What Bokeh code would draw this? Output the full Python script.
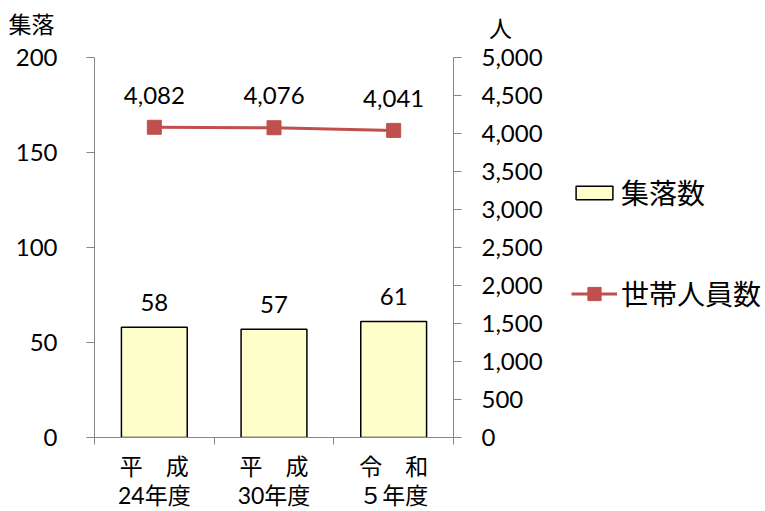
from bokeh.plotting import figure
from bokeh.layouts import row, column
from bokeh.models import (ColumnDataSource, Range1d, LinearAxis, FixedTicker,
                          SingleIntervalTicker, NumeralTickFormatter, Legend,
                          LegendItem, Label)
from bokeh.embed import file_html
from bokeh.resources import INLINE
from bokeh.core.properties import value

# --- data -------------------------------------------------------------
categories = ["平　成\n24年度", "平　成\n30年度", "令　和\n５年度"]
settlements = [58, 57, 61]          # 集落数 (left axis)
households = [4082, 4076, 4041]     # 世帯人員数 (right axis, 人)

settle_axis_max = 200
people_axis_max = 5000

# --- styling ----------------------------------------------------------
NUM_FONT = "Lato, 'Noto Sans CJK JP'"
JP_FONT = "'Noto Sans CJK JP'"
AXIS_GREY = "#868686"
BAR_FILL = "#FFFFCC"
LINE_RED = "#C0504D"
NAN = float("nan")

CAP_H = 42          # strip holding the two unit captions
CHART_H = 511 - CAP_H


def bare_figure(**kw):
    f = figure(x_range=Range1d(0, 1), y_range=Range1d(0, 1),
               x_axis_location=None, y_axis_location=None,
               output_backend="svg", toolbar_location=None, min_border=0, **kw)
    f.outline_line_color = None
    f.xgrid.visible = False
    f.ygrid.visible = False
    return f


pos = [i + 0.5 for i in range(len(categories))]
src = ColumnDataSource(dict(
    x=pos,
    settle=settlements,
    settle_txt=[str(v) for v in settlements],
    people=households,
    people_txt=[f"{v:,}" for v in households],
))

p = figure(width=545, height=CHART_H,
           x_range=Range1d(0, len(categories)),
           y_range=Range1d(0, settle_axis_max),
           output_backend="svg", toolbar_location=None,
           min_border_left=94, min_border_right=92,
           min_border_top=15, min_border_bottom=74)
p.extra_y_ranges = {"people": Range1d(0, people_axis_max)}
p.outline_line_color = None
p.xgrid.visible = False
p.ygrid.visible = False

# x axis: labels centred on each bar, tick marks on the category borders
xa = p.xaxis[0]
xa.ticker = FixedTicker(ticks=pos, minor_ticks=list(range(len(categories) + 1)))
xa.major_label_overrides = {x: c for x, c in zip(pos, categories)}
xa.major_tick_out = 0
xa.major_tick_in = 0
xa.minor_tick_out = 7
xa.minor_tick_in = 0
xa.minor_tick_line_color = AXIS_GREY
xa.axis_line_color = AXIS_GREY
xa.major_label_text_font = NUM_FONT
xa.major_label_text_font_size = "23px"
xa.major_label_text_color = "black"
xa.major_label_text_line_height = 1.05
xa.major_label_standoff = 7

# left axis: settlements
ya = p.yaxis[0]
ya.ticker = SingleIntervalTicker(interval=50)
ya.minor_tick_line_color = None
ya.major_tick_out = 8
ya.major_tick_in = 0
ya.major_tick_line_color = AXIS_GREY
ya.axis_line_color = AXIS_GREY
ya.major_label_text_font = NUM_FONT
ya.major_label_text_font_size = "24px"
ya.major_label_text_color = "black"
ya.major_label_standoff = 29

# right axis: persons
ra = LinearAxis(y_range_name="people",
                ticker=SingleIntervalTicker(interval=500),
                formatter=NumeralTickFormatter(format="0,0"))
ra.minor_tick_line_color = None
ra.major_tick_out = 8
ra.major_tick_in = 0
ra.major_tick_line_color = AXIS_GREY
ra.axis_line_color = AXIS_GREY
ra.major_label_text_font = NUM_FONT
ra.major_label_text_font_size = "24px"
ra.major_label_text_color = "black"
ra.major_label_standoff = 20
p.add_layout(ra, "right")

# bars and line
bars = p.vbar(x="x", top="settle", width=0.55, source=src,
              fill_color=BAR_FILL, line_color="black", line_width=1.5)
line = p.line(x="x", y="people", source=src, y_range_name="people",
              line_color=LINE_RED, line_width=3)
pts = p.scatter(x="x", y="people", source=src, y_range_name="people",
                marker="square", size=14,
                fill_color=LINE_RED, line_color=LINE_RED)

# value labels
p.text(x="x", y="settle", text="settle_txt", source=src,
       text_align="center", text_baseline="alphabetic", y_offset=-25,
       text_font=value(NUM_FONT), text_font_size="24px", text_color="black")
p.text(x="x", y="people", text="people_txt", source=src, y_range_name="people",
       text_align="center", text_baseline="alphabetic", y_offset=-32,
       text_font=value(NUM_FONT), text_font_size="24px", text_color="black")

# unit captions above the two value axes
cap = bare_figure(width=765, height=CAP_H)
cap.add_layout(Label(x=31, y=20, x_units="screen", y_units="screen",
                     text="集落", text_align="center", text_baseline="middle",
                     text_font=JP_FONT, text_font_size="23px", text_color="black"))
cap.add_layout(Label(x=500, y=16, x_units="screen", y_units="screen",
                     text="人", text_align="center", text_baseline="middle",
                     text_font=JP_FONT, text_font_size="23px", text_color="black"))

# legend panel to the right of the chart
lp = bare_figure(width=220, height=CHART_H)
key_bar = lp.vbar(x=[NAN], top=[NAN], width=1, fill_color=BAR_FILL,
                  line_color="black", line_width=1.5)
key_line = lp.line(x=[NAN, NAN], y=[NAN, NAN], line_color=LINE_RED, line_width=3)
key_pts = lp.scatter(x=[NAN], y=[NAN], marker="square",
                     fill_color=LINE_RED, line_color=LINE_RED)

legend_style = dict(orientation="vertical", glyph_width=46, label_standoff=4,
                    padding=0, margin=0, border_line_color=None,
                    background_fill_alpha=0, label_text_font=JP_FONT,
                    label_text_font_size="28px", label_text_color="black")
lp.add_layout(Legend(items=[LegendItem(label="集落数", renderers=[key_bar])],
                     location=(26, 225), glyph_height=17, **legend_style))
lp.add_layout(Legend(items=[LegendItem(label="世帯人員数", renderers=[key_line, key_pts])],
                     location=(26, 124), glyph_height=33, **legend_style))

layout = column(cap, row(p, lp))
open("out.html", "w").write(file_html(layout, INLINE))
